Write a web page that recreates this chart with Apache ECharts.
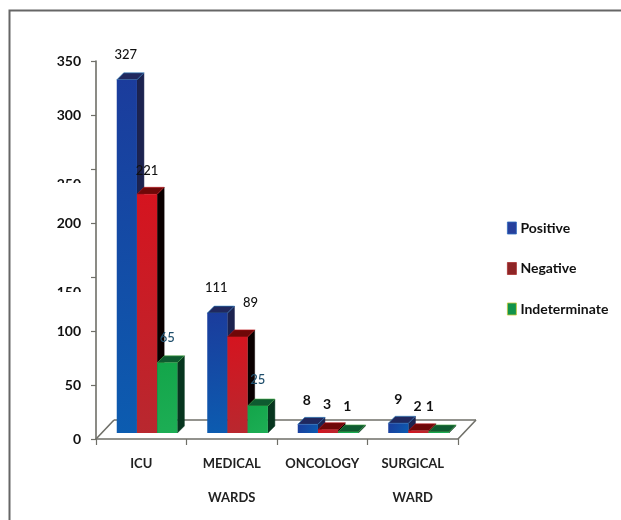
<!DOCTYPE html>
<html><head><meta charset="utf-8">
<style>html,body{margin:0;padding:0;background:#fff}#c{width:621px;height:520px}</style>
<script src="https://cdn.jsdelivr.net/npm/echarts@6/dist/echarts.min.js"></script>
</head><body><div id="c"></div>
<script>
var categories = ['ICU', 'MEDICAL\nWARDS', 'ONCOLOGY', 'SURGICAL\nWARD'];
var seriesNames = ['Positive', 'Negative', 'Indeterminate'];
var positive = [327, 111, 8, 9];
var negative = [221, 89, 3, 2];
var indeterminate = [65, 25, 1, 1];
var yTicks = [0, 50, 100, 150, 200, 250, 300, 350];

// Styling only, no data
var labelOffsets = [
  [[-1, -25], [0, -24], [0, -25]],
  [[-1, -25], [13, -34], [0, -26]],
  [[-1, -24], [-1, -25], [-1, -25]],
  [[0, -24], [-1, -24], [-9, -25]]
];
var faces = [
  {front: ['#1b3c9c', '#0c5cb0'], top: '#20285e', side: '#1c2350', edge: '#2f86c8'},
  {front: ['#d5141f', '#b8282f'], top: '#6e0808', side: '#0a0000', edge: '#c0161c'},
  {front: ['#13a54a', '#1dae55'], top: '#0e5a30', side: '#07351f', edge: '#4fae4a'}
];
var legendColors = [['#27409c', '#2f6cc0'], ['#8e2526', '#a83030'], ['#11934b', '#c8c83a']];
var axisGrey = '#6f6f68';
var FONT = 'Lato';
var barW = 20.2, depth = 7, lift = 6, groupLeft = -24.5;

function barRender(sIdx) {
  return function (params, api) {
    var i = api.value(0), v = api.value(1);
    var base = api.coord([i, 0]), topP = api.coord([i, v]);
    var x = base[0] + groupLeft + sIdx * barW, y0 = base[1] - lift, y1 = topP[1] - lift;
    var f = faces[sIdx];
    var off = labelOffsets[i][sIdx];
    var w = barW;
    var small = v < 10;
    return {type: 'group', children: [
      {type: 'polygon', shape: {points: [[x + w, y1], [x + w + depth, y1 - depth], [x + w + depth, y0 - depth], [x + w, y0]]},
        style: {fill: f.side, stroke: f.side, lineWidth: 0.5}},
      {type: 'polygon', shape: {points: [[x, y1], [x + depth, y1 - depth], [x + w + depth, y1 - depth], [x + w, y1]]},
        style: {fill: f.top, stroke: f.edge, lineWidth: 0.6}},
      {type: 'rect', shape: {x: x, y: y1, width: w, height: Math.max(y0 - y1, 1)},
        style: {fill: new echarts.graphic.LinearGradient(0, 0, 1, 1, [{offset: 0, color: f.front[0]}, {offset: 1, color: f.front[1]}])}},
      {type: 'text', x: x + w / 2 + off[0], y: y1 + off[1], z2: 50,
        style: {text: String(v), fill: (v === 65 || v === 25) ? '#1f4e6b' : '#111', font: (small ? '700 14px ' : '500 13px ') + FONT, align: 'center', verticalAlign: 'middle'}}
    ]};
  };
}
function floorRender(params, api) {
  var cs = params.coordSys, d = 18, h = 19;
  var L = cs.x, R = cs.x + cs.width, B = cs.y + cs.height;
  var line = function (a, b, c, e) {
    return {type: 'line', shape: {x1: a, y1: b, x2: c, y2: e}, style: {stroke: axisGrey, lineWidth: 1.6}};
  };
  return {type: 'group', children: [line(L, B, L + d, B - h), line(L + d, B - h, R + d, B - h), line(R, B, R + d, B - h)]};
}
function table(vals) { return vals.map(function (v, i) { return [i, v]; }); }
var chart = echarts.init(document.getElementById('c'), null, {renderer: 'canvas'});
var allVals = [positive, negative, indeterminate];
var series = [{type: 'custom', name: '_floor', coordinateSystem: 'cartesian2d', data: [[0, 0]], renderItem: floorRender, silent: true, z: 1}];
seriesNames.forEach(function (n, s) {
  series.push({type: 'custom', name: n, coordinateSystem: 'cartesian2d', encode: {x: 0, y: 1},
    data: table(allVals[s]), renderItem: barRender(s), z: 2 + s, itemStyle: {color: legendColors[s][0]}, clip: false});
});
chart.setOption({
  animation: false,
  backgroundColor: '#fff',
  grid: {left: 96, right: 163, top: 61, bottom: 81, containLabel: false},
  legend: {orient: 'vertical', left: 507, top: 221, padding: 0, itemWidth: 9, itemHeight: 12, itemGap: 26.5, icon: 'rect',
    data: seriesNames.map(function (n, s) {
      return {name: n, itemStyle: {color: legendColors[s][0], borderColor: legendColors[s][1], borderWidth: 0.8}};
    }),
    textStyle: {fontFamily: FONT, fontSize: 14, fontWeight: 700, color: '#111', padding: [-4, 0, 0, -1]}},
  xAxis: {type: 'category', data: categories, boundaryGap: true,
    axisLine: {lineStyle: {color: axisGrey, width: 1.6}},
    axisTick: {show: true, alignWithLabel: false, length: 6, lineStyle: {color: axisGrey, width: 1.2}},
    axisLabel: {interval: 0, margin: 8, color: '#222', fontFamily: FONT, fontSize: 13, fontWeight: 700, lineHeight: 34},
    splitLine: {show: false}},
  yAxis: {type: 'value', min: 0, max: 350, interval: 50,
    axisLine: {show: true, lineStyle: {color: axisGrey, width: 1.6}},
    axisTick: {show: true, length: 5, lineStyle: {color: axisGrey, width: 1.2}},
    splitLine: {show: false},
    axisLabel: {margin: 15, fontFamily: FONT, fontSize: 14, fontWeight: 700, color: '#111',
      formatter: function (v) { return (v === 250 || v === 150) ? '{cut|' + v + '}' : '' + v; },
      rich: {cut: {fontFamily: FONT, fontSize: 14, fontWeight: 700, color: '#111', padding: [30, 0, 0, 0]}}}},
  series: series,
  graphic: [
    {type: 'rect', z: 100, shape: {x: 50, y: 183, width: 36, height: 14}, style: {fill: '#fff'}},
    {type: 'rect', z: 100, shape: {x: 50, y: 292, width: 36, height: 14}, style: {fill: '#fff'}},
    {type: 'polyline', z: 100, shape: {points: [[9.5, 520], [9.5, 10.5], [621, 10.5]]}, style: {stroke: '#666', fill: 'none', lineWidth: 2}}
  ]
});
</script></body></html>
